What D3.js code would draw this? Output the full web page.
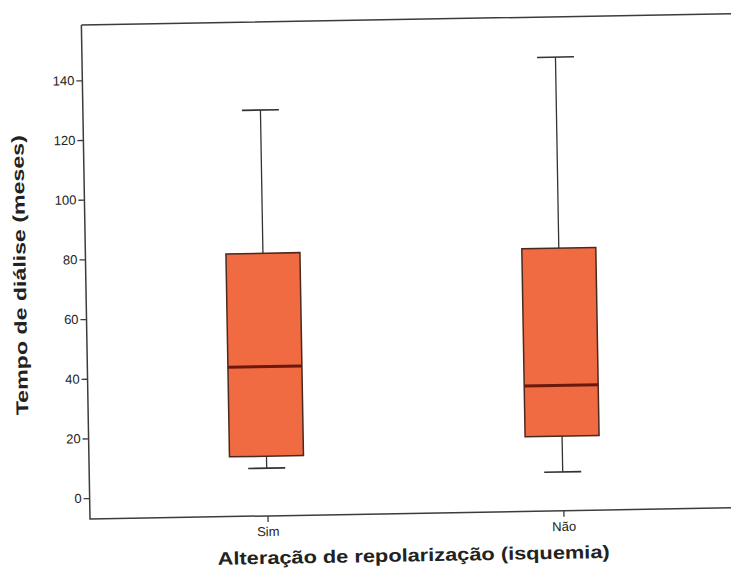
<!DOCTYPE html>
<html>
<head>
<meta charset="utf-8">
<script src="https://cdn.jsdelivr.net/npm/d3@7"></script>
<style>
  body { margin: 0; background: #fff; }
  text { font-family: 'Liberation Sans', Arial, sans-serif; }
</style>
</head>
<body>
<svg id="chart" width="731" height="579"></svg>
<script>
// values
const categories = ['Sim', 'Não'];
const whiskerLow = [9, 6];
const quartile1 = [13, 18];
const medians = [43, 35];
const quartile3 = [81, 81];
const whiskerHigh = [129, 145];
const yTicks = [0, 20, 40, 60, 80, 100, 120, 140];

const yTitle = 'Tempo de diálise (meses)';
const xTitle = 'Alteração de repolarização (isquemia)';

const plotLeft = 90, plotRight = 741, plotTop = 25, plotBottom = 519;

const svg = d3.select('#chart');
// the scan is tilted about one degree
const g = svg.append('g').attr('transform', `rotate(-1,${plotLeft},${plotBottom})`);

const y = d3.scaleLinear().domain([-7, 158.5]).range([plotBottom, plotTop]);
const x = d3.scalePoint().domain(categories).range([plotLeft, plotRight]).padding(0.6);

const boxW = 74, capW = 37;

// frame (right side runs off the page)
g.append('path')
  .attr('d', `M${plotLeft},${plotTop}L${plotRight + 30},${plotTop}M${plotLeft},${plotTop}L${plotLeft},${plotBottom}L${plotRight + 30},${plotBottom}`)
  .attr('fill', 'none')
  .attr('stroke', '#3c3c3c')
  .attr('stroke-width', 1.5);

const yAxis = g.append('g')
  .attr('transform', `translate(${plotLeft},0)`)
  .call(d3.axisLeft(y).tickValues(yTicks).tickSize(6).tickPadding(2));
yAxis.select('.domain').remove();
yAxis.selectAll('line').attr('stroke', '#3c3c3c').attr('stroke-width', 1.3);
yAxis.selectAll('text').attr('font-size', 13).attr('fill', '#222')
  .style('font-family', "'Liberation Sans', Arial, sans-serif");

const xAxis = g.append('g')
  .attr('transform', `translate(0,${plotBottom})`)
  .call(d3.axisBottom(x).tickSize(6).tickPadding(5));
xAxis.select('.domain').remove();
xAxis.selectAll('line').attr('stroke', '#3c3c3c').attr('stroke-width', 1.3);
xAxis.selectAll('text').attr('font-size', 13).attr('fill', '#222')
  .style('font-family', "'Liberation Sans', Arial, sans-serif");

const boxes = g.append('g').selectAll('g')
  .data(categories)
  .enter()
  .append('g');

// whiskers
boxes.append('line')
  .attr('x1', d => x(d)).attr('x2', d => x(d))
  .attr('y1', (d, i) => y(whiskerHigh[i]))
  .attr('y2', (d, i) => y(quartile3[i]))
  .attr('stroke', '#333').attr('stroke-width', 1.3);
boxes.append('line')
  .attr('x1', d => x(d)).attr('x2', d => x(d))
  .attr('y1', (d, i) => y(quartile1[i]))
  .attr('y2', (d, i) => y(whiskerLow[i]))
  .attr('stroke', '#333').attr('stroke-width', 1.3);
boxes.append('line')
  .attr('x1', d => x(d) - capW / 2).attr('x2', d => x(d) + capW / 2)
  .attr('y1', (d, i) => y(whiskerHigh[i]))
  .attr('y2', (d, i) => y(whiskerHigh[i]))
  .attr('stroke', '#333').attr('stroke-width', 1.6);
boxes.append('line')
  .attr('x1', d => x(d) - capW / 2).attr('x2', d => x(d) + capW / 2)
  .attr('y1', (d, i) => y(whiskerLow[i]))
  .attr('y2', (d, i) => y(whiskerLow[i]))
  .attr('stroke', '#333').attr('stroke-width', 1.6);

// boxes
boxes.append('rect')
  .attr('x', d => x(d) - boxW / 2)
  .attr('width', boxW)
  .attr('y', (d, i) => y(quartile3[i]))
  .attr('height', (d, i) => y(quartile1[i]) - y(quartile3[i]))
  .attr('fill', '#f06a42')
  .attr('stroke', '#4a2a1e')
  .attr('stroke-width', 1.5);

// medians
boxes.append('line')
  .attr('x1', d => x(d) - boxW / 2).attr('x2', d => x(d) + boxW / 2)
  .attr('y1', (d, i) => y(medians[i]))
  .attr('y2', (d, i) => y(medians[i]))
  .attr('stroke', '#6a1a0c').attr('stroke-width', 3);

// axis titles
g.append('text')
  .attr('transform', `translate(30,${(plotTop + plotBottom) / 2 + 2}) rotate(-90)`)
  .attr('text-anchor', 'middle')
  .attr('font-size', 17)
  .attr('font-weight', 'bold')
  .attr('fill', '#222')
  .attr('textLength', 280)
  .attr('lengthAdjust', 'spacingAndGlyphs')
  .text(yTitle);

g.append('text')
  .attr('x', 413)
  .attr('y', 567)
  .attr('text-anchor', 'middle')
  .attr('font-size', 18)
  .attr('font-weight', 'bold')
  .attr('fill', '#222')
  .attr('textLength', 392)
  .attr('lengthAdjust', 'spacingAndGlyphs')
  .text(xTitle);
</script>
</body>
</html>
